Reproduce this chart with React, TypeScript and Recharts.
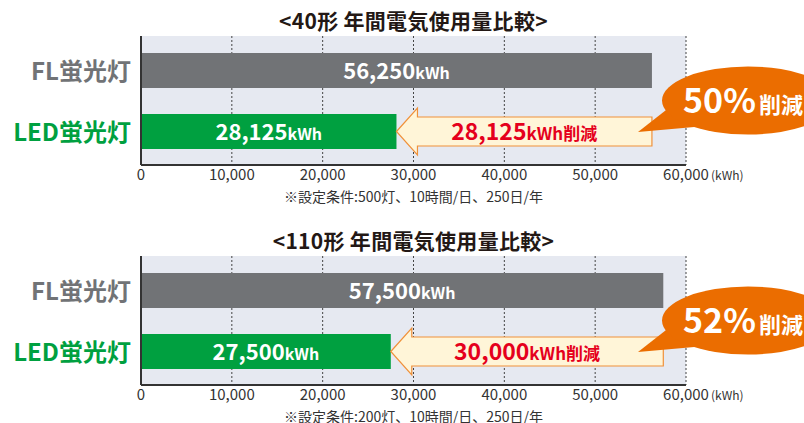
import React from 'react';
import { BarChart, Bar, XAxis, YAxis, CartesianGrid, LabelList } from 'recharts';

const FONT = '"Noto Sans CJK JP", "Noto Sans", sans-serif';

// 値は画像から読み取り
const titles = ['<40形 年間電気使用量比較>', '<110形 年間電気使用量比較>'];
const categories = ['FL蛍光灯', 'LED蛍光灯'];
const flValues = [56250, 57500];
const ledValues = [28125, 27500];
const notes = [
  '※設定条件:500灯、10時間/日、250日/年',
  '※設定条件:200灯、10時間/日、250日/年',
];
const xTicks = [0, 10000, 20000, 30000, 40000, 50000, 60000];
const xMax = 60000;

const GRAY = '#717376';
const GREEN = '#00a040';
const ORANGE = '#eb6d00';
const RED = '#e5001c';
const BG = '#e6e9f1';

const fmt = (v: number) => v.toLocaleString('en-US');

const buildRows = (i: number) => [
  { name: categories[0], fl: flValues[i] },
  { name: categories[1], led: ledValues[i], cut: flValues[i] - ledValues[i] },
];

// バー内の数値ラベル
const BarValue = (props: any) => {
  const { x, y, width, height, value } = props;
  if (!value) return null;
  const cx = Number(x) + Number(width) / 2;
  const cy = Number(y) + Number(height) / 2;
  return (
    <text x={cx} y={cy + 8} textAnchor="middle" fill="#fff" fontFamily={FONT} fontWeight={700}>
      <tspan fontSize={22}>{fmt(value)}</tspan>
      <tspan fontSize={16}>kWh</tspan>
    </text>
  );
};

// 削減量の矢印と吹き出し
const CutArrow = (props: any) => {
  const { x, y, width, height, payload } = props;
  if (!payload || !payload.cut || !(width > 0)) return null;
  const cy = y + height / 2;
  const left = x;
  const right = x + width;
  const neck = x + 21;
  const pts = [
    [left, cy],
    [neck, cy - 23.5],
    [neck, cy - 14.5],
    [right, cy - 14.5],
    [right, cy + 14.5],
    [neck, cy + 14.5],
    [neck, cy + 23.5],
  ]
    .map((p) => p.join(','))
    .join(' ');
  const unit = width / payload.cut;
  const plotRight = x + (xMax - payload.led) * unit;
  const bx = plotRight + 62;
  const by = cy - 31;
  const pct = Math.round((payload.cut / (payload.cut + payload.led)) * 100);
  return (
    <g>
      <polygon points={pts} fill="#fff5d8" stroke="#f0913a" strokeWidth={1.2} />
      <text
        x={(left + right) / 2}
        y={cy + 8}
        textAnchor="middle"
        fill={RED}
        fontFamily={FONT}
        fontWeight={700}
      >
        <tspan fontSize={23}>{fmt(payload.cut)}</tspan>
        <tspan fontSize={17}>kWh削減</tspan>
      </text>
      <polygon
        points={`${bx - 110},${cy + 0.5} ${bx - 80},${by + 8} ${bx - 48},${by + 26}`}
        fill={ORANGE}
      />
      <ellipse cx={bx} cy={by} rx={86} ry={34} fill={ORANGE} />
      <text x={bx - 65} y={by + 12} fill="#fff" fontFamily={FONT} fontWeight={700}>
        <tspan fontSize={34}>{pct}%</tspan>
        <tspan fontSize={22} dx={3}>削減</tspan>
      </text>
    </g>
  );
};

const CategoryTick = (props: any) => {
  const { x, y, payload } = props;
  const color = String(payload.value).startsWith('LED') ? GREEN : GRAY;
  return (
    <text x={x - 10} y={y + 9} textAnchor="end" fill={color} fontSize={24} fontWeight={700} fontFamily={FONT}>
      {payload.value}
    </text>
  );
};

const NumberTick = (props: any) => {
  const { x, y, payload } = props;
  const v = payload.value;
  return (
    <g>
      <text x={x} y={y + 15} textAnchor="middle" fill="#333" fontSize={15} fontFamily={FONT}>
        {fmt(v)}
      </text>
      {v === xMax && (
        <text x={x + 25} y={y + 15} fill="#333" fontSize={12} fontFamily={FONT}>
          (kWh)
        </text>
      )}
    </g>
  );
};

const Block = ({ index }: { index: number }) => (
  <div style={{ position: 'absolute', left: 0, top: index * 220, width: 804, height: 220 }}>
    <div
      style={{
        position: 'absolute',
        left: 0,
        top: 10,
        width: 827,
        textAlign: 'center',
        fontSize: 21,
        lineHeight: '21px',
        letterSpacing: 0.3,
        fontWeight: 700,
        color: '#231815',
      }}
    >
      {titles[index]}
    </div>
    <BarChart
      width={804}
      height={200}
      data={buildRows(index)}
      layout="vertical"
      margin={{ top: 36, right: 118, left: 0, bottom: 15 }}
      style={{ position: 'absolute', left: 0, top: 0 }}
    >
      <CartesianGrid horizontal={false} stroke="#444" strokeDasharray="2 2" fill={BG} />
      <XAxis
        type="number"
        domain={[0, xMax]}
        ticks={xTicks}
        interval={0}
        height={20}
        tickSize={0}
        tickMargin={0}
        tickLine={false}
        axisLine={{ stroke: '#333', strokeWidth: 2 }}
        tick={<NumberTick />}
      />
      <YAxis
        type="category"
        dataKey="name"
        width={141}
        padding={{ top: 4, bottom: 3 }}
        tickSize={0}
        tickMargin={0}
        tickLine={false}
        axisLine={{ stroke: '#333', strokeWidth: 2 }}
        tick={<CategoryTick />}
      />
      <Bar dataKey="fl" stackId="a" fill={GRAY} barSize={35} isAnimationActive={false}>
        <LabelList dataKey="fl" content={<BarValue />} />
      </Bar>
      <Bar dataKey="led" stackId="a" fill={GREEN} barSize={35} isAnimationActive={false}>
        <LabelList dataKey="led" content={<BarValue />} />
      </Bar>
      <Bar dataKey="cut" stackId="a" barSize={35} shape={<CutArrow />} isAnimationActive={false} />
    </BarChart>
    <div
      style={{
        position: 'absolute',
        left: 0,
        top: 189,
        width: 827,
        textAlign: 'center',
        fontSize: 14,
        lineHeight: '14px',
        color: '#333',
      }}
    >
      {notes[index]}
    </div>
  </div>
);

export default function App() {
  return (
    <div
      style={{
        position: 'absolute',
        left: 0,
        top: 0,
        width: 804,
        height: 423,
        overflow: 'hidden',
        background: '#fff',
        fontFamily: FONT,
      }}
    >
      <Block index={0} />
      <Block index={1} />
    </div>
  );
}
